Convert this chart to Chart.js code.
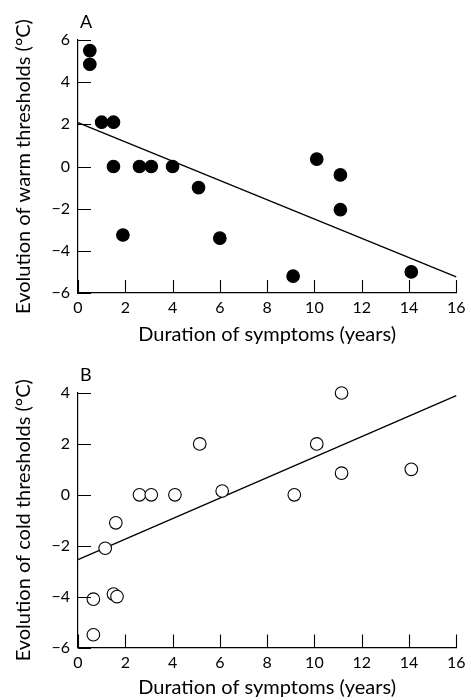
<!DOCTYPE html>
<html>
<head>
<meta charset="utf-8">
<script src="https://cdn.jsdelivr.net/npm/chart.js@4.4.0/dist/chart.umd.min.js"></script>
<style>
  html, body { margin: 0; padding: 0; background: #fff; }
  .panel { position: relative; width: 471px; height: 350px; }
  canvas { display: block; }
</style>
</head>
<body>
<div class="panel"><canvas id="chartA" width="471" height="350"></canvas></div>
<div class="panel"><canvas id="chartB" width="471" height="350"></canvas></div>
<script>
// ---- Data ----
const durationA = [0.5, 0.5, 1.0, 1.5, 1.5, 1.9, 2.6, 3.1, 4.0, 5.1, 6.0, 9.1, 10.1, 11.1, 11.1, 14.1];
const warmEvolution = [5.5, 4.85, 2.1, 2.1, 0, -3.25, 0, 0, 0, -1.0, -3.4, -5.2, 0.35, -0.4, -2.05, -5.0];
const fitX = [0, 16];
const warmFit = [2.08, -5.24];

const durationB = [0.65, 0.65, 1.15, 1.5, 1.65, 1.6, 2.6, 3.1, 4.1, 5.15, 6.1, 9.15, 10.1, 11.15, 11.15, 14.1];
const coldEvolution = [-4.1, -5.5, -2.1, -3.9, -4.0, -1.1, 0, 0, 0, 2.0, 0.15, 0, 2.0, 4.0, 0.85, 1.0];
const coldFit = [-2.55, 3.9];

const xTicks = [0, 2, 4, 6, 8, 10, 12, 14, 16];
const yTicksA = [-6, -4, -2, 0, 2, 4, 6];
const yTicksB = [-6, -4, -2, 0, 2, 4];

const xTitle = 'Duration of symptoms (years)';
const yTitleA = 'Evolution of warm thresholds (°C)';
const yTitleB = 'Evolution of cold thresholds (°C)';

// ---- Helpers ----
const FONT = 'Lato, "Open Sans", sans-serif';
const TICK_LEN = 13;
const pts = (xs, ys) => xs.map((x, i) => ({ x: x, y: ys[i] }));
const fmt = v => (v < 0 ? '\u2212' + Math.abs(v) : String(v));

// Panel letter + inward-pointing tick marks (positions taken from the scales)
const decorations = {
  id: 'decorations',
  afterDraw(chart, args, opts) {
    const ctx = chart.ctx;
    const xs = chart.scales.x, ys = chart.scales.y;
    const ca = chart.chartArea;
    ctx.save();
    ctx.strokeStyle = '#000';
    ctx.lineWidth = 1.1;
    ctx.beginPath();
    xs.ticks.forEach(t => {
      const px = Math.round(xs.getPixelForValue(t.value)) + 0.5;
      ctx.moveTo(px, ca.bottom);
      ctx.lineTo(px, ca.bottom - TICK_LEN);
    });
    ys.ticks.forEach(t => {
      const py = Math.round(ys.getPixelForValue(t.value)) + 0.5;
      ctx.moveTo(ca.left, py);
      ctx.lineTo(ca.left + TICK_LEN, py);
    });
    ctx.stroke();
    ctx.fillStyle = '#000';
    ctx.font = '18px ' + FONT;
    ctx.textAlign = 'left';
    ctx.textBaseline = 'alphabetic';
    ctx.fillText(opts.text, ca.left + 2, ca.top - 12);
    ctx.restore();
  }
};

function makeChart(id, cfg) {
  const axisFont = { family: FONT, size: 20 };
  const tickFont = { family: FONT, size: 16 };
  return new Chart(document.getElementById(id), {
    type: 'scatter',
    data: {
      datasets: [
        {
          type: 'scatter',
          data: pts(cfg.xs, cfg.ys),
          pointRadius: 6.3,
          pointHoverRadius: 6.3,
          pointBackgroundColor: cfg.filled ? '#000' : '#fff',
          pointBorderColor: '#000',
          pointBorderWidth: 1.1,
          clip: false,
          order: 1
        },
        {
          type: 'line',
          data: pts(fitX, cfg.fit),
          borderColor: '#000',
          borderWidth: 1.3,
          pointRadius: 0,
          fill: false,
          clip: false,
          order: 2
        }
      ]
    },
    options: {
      responsive: false,
      animation: false,
      events: [],
      layout: { padding: { top: cfg.top, right: 14, left: 0, bottom: 0 } },
      plugins: {
        legend: { display: false },
        tooltip: { enabled: false },
        decorations: { text: cfg.label }
      },
      scales: {
        x: {
          type: 'linear',
          min: 0, max: 16,
          afterBuildTicks: s => { s.ticks = xTicks.map(v => ({ value: v })); },
          afterFit: s => { s.height = cfg.xHeight; },
          border: { display: true, color: '#000', width: 1.2 },
          grid: { display: true, drawOnChartArea: false, drawTicks: false, tickLength: 0, color: 'rgba(0,0,0,0)' },
          ticks: { color: '#000', font: tickFont, padding: 5.5, maxRotation: 0, autoSkip: false, callback: v => fmt(v) },
          title: { display: true, text: xTitle, color: '#000', font: axisFont, padding: { top: 0, bottom: cfg.xTitlePad } }
        },
        y: {
          type: 'linear',
          min: cfg.ymin, max: cfg.ymax,
          afterBuildTicks: s => { s.ticks = cfg.yTicks.map(v => ({ value: v })); },
          afterFit: s => { s.width = 78; },
          border: { display: true, color: '#000', width: 1.2 },
          grid: { display: true, drawOnChartArea: false, drawTicks: false, tickLength: 0, color: 'rgba(0,0,0,0)' },
          ticks: { color: '#000', font: tickFont, padding: 8, autoSkip: false, callback: v => fmt(v) },
          title: { display: true, text: cfg.yTitle, color: '#000', font: axisFont, padding: { top: 12, bottom: 0 } }
        }
      }
    },
    plugins: [decorations]
  });
}

makeChart('chartA', {
  xs: durationA, ys: warmEvolution, fit: warmFit, filled: true,
  ymin: -6, ymax: 6, yTicks: yTicksA, yTitle: yTitleA, label: 'A',
  top: 40, xHeight: 57, xTitlePad: 3
});
makeChart('chartB', {
  xs: durationB, ys: coldEvolution, fit: coldFit, filled: false,
  ymin: -6, ymax: 4, yTicks: yTicksB, yTitle: yTitleB, label: 'B',
  top: 43, xHeight: 52.5, xTitlePad: 0
});
</script>
</body>
</html>
